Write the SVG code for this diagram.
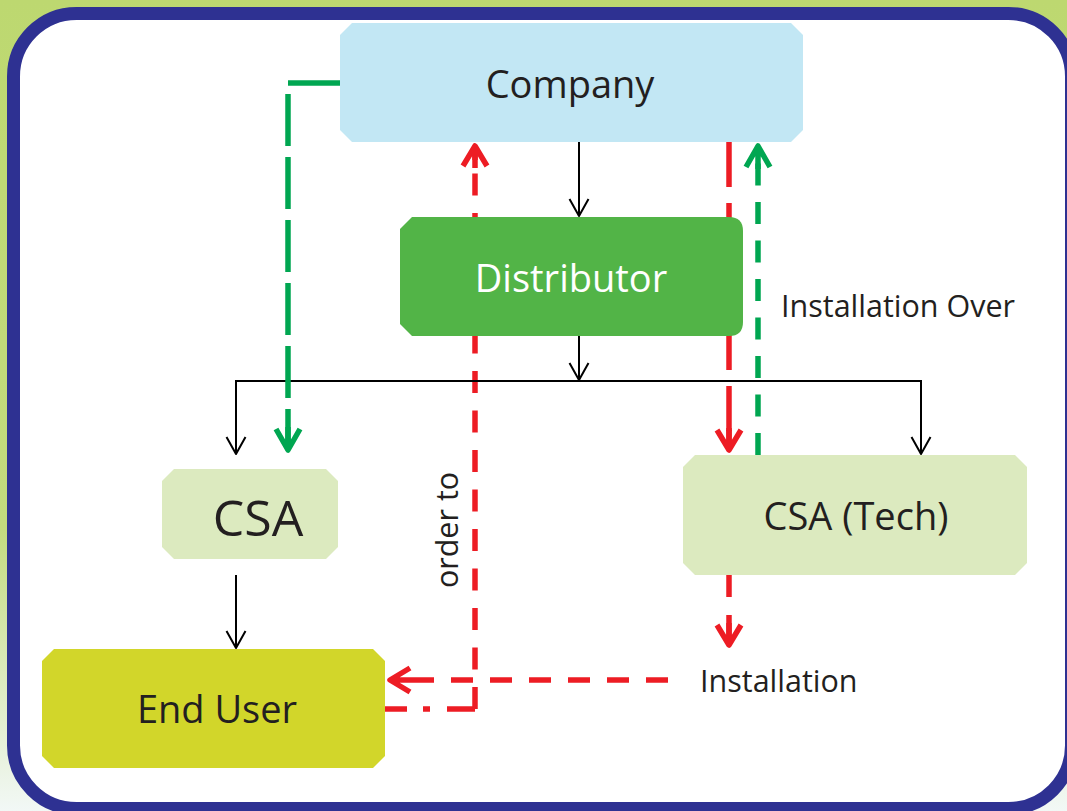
<svg xmlns="http://www.w3.org/2000/svg" width="1067" height="811" viewBox="0 0 1067 811">
<defs>
<linearGradient id="bg" x1="0" y1="0" x2="0" y2="1">
<stop offset="0" stop-color="#BDD870"/>
<stop offset="0.65" stop-color="#C3DB7E"/>
<stop offset="1" stop-color="#F2F8F6"/>
</linearGradient>
<marker id="ab" markerUnits="userSpaceOnUse" markerWidth="40" markerHeight="40" viewBox="-30 -20 40 40" refX="0" refY="0" orient="auto" overflow="visible">
<path d="M-17,-9.5 L0,0 L-17,9.5" fill="none" stroke="#000" stroke-width="2" stroke-linejoin="round"/>
</marker>
<marker id="ar" markerUnits="userSpaceOnUse" markerWidth="40" markerHeight="40" viewBox="-30 -20 40 40" refX="0" refY="0" orient="auto" overflow="visible">
<path d="M-20,-12 L0,0 L-20,12 M0,0 L-22,0" fill="none" stroke="#ED1C24" stroke-width="5.5" stroke-linejoin="round"/>
</marker>
<marker id="ag" markerUnits="userSpaceOnUse" markerWidth="40" markerHeight="40" viewBox="-30 -20 40 40" refX="0" refY="0" orient="auto" overflow="visible">
<path d="M-21,-12 L0,0 L-21,12 M0,0 L-23,0" fill="none" stroke="#00A651" stroke-width="5.5" stroke-linejoin="round"/>
</marker>
</defs>
<style>
.t{font-family:"Open Sans","Noto Sans","Liberation Sans",sans-serif;fill:#231F20;}
.lb{font-size:38px;text-anchor:middle;}
.sm{font-size:30.5px;}
.blk{fill:none;stroke:#000;stroke-width:2;}
.red{fill:none;stroke:#ED1C24;stroke-width:5.5;}
.grn{fill:none;stroke:#00A651;stroke-width:5.5;}
</style>
<rect x="0" y="0" width="1067" height="811" fill="url(#bg)"/>
<rect x="13.5" y="13.5" width="1058" height="795" rx="63" ry="63" fill="#FFFFFF" stroke="#2E3192" stroke-width="13"/>

<g id="connectors">
<path class="red" d="M475,709 V146" stroke-dasharray="22 17.5"/>
<path class="red" d="M385,709 H475" stroke-dasharray="22 16 7 17 30"/>
<path class="red" d="M729,142 V450" stroke-dasharray="45 16"/>
<path class="blk" d="M579,142 V216" marker-end="url(#ab)"/>
<path class="blk" d="M579,336 V380" marker-end="url(#ab)"/>
<path class="blk" d="M579,381 H236 V454" marker-end="url(#ab)"/>
<path class="blk" d="M579,381 H921 V454" marker-end="url(#ab)"/>
<path class="blk" d="M236,575 V648" marker-end="url(#ab)"/>
<path class="grn" d="M340,83 H288 V450" stroke-dasharray="52 11" marker-end="url(#ag)"/>
<path class="grn" d="M758,455 V146" stroke-dasharray="22 16.5" marker-end="url(#ag)"/>
<path class="red" d="M729,575 V645" stroke-dasharray="22 18" marker-end="url(#ar)"/>
<path class="red" d="M668,680 H390" stroke-dasharray="22 17" marker-end="url(#ar)"/>
<path class="red" d="M475,160 V146" marker-end="url(#ar)"/>
<path class="red" d="M729,430 V450" marker-end="url(#ar)"/>
</g>

<g id="company">
<path d="M352,23 H791 L803,35 V130 L791,142 H352 L340,130 V35 Z" fill="#C2E7F4"/>
<text class="t lb" x="570" y="98">Company</text>
</g>
<g id="distributor">
<path d="M412,217 H729 Q743,217 743,231 V322 Q743,336 729,336 H412 L400,324 V229 Z" fill="#52B447"/>
<text class="t lb" x="571" y="292" style="fill:#FFFFFF">Distributor</text>
</g>
<g id="csa">
<path d="M174,469 H326 L338,481 V547 L326,559 H174 L162,547 V481 Z" fill="#DCEABF"/>
<text class="t" x="258" y="536" style="font-size:50px;text-anchor:middle">CSA</text>
</g>
<g id="csa-tech">
<path d="M695,455 H1015 L1027,467 V563 L1015,575 H695 L683,563 V467 Z" fill="#DCEABF"/>
<text class="t lb" x="856" y="530">CSA (Tech)</text>
</g>
<g id="end-user">
<path d="M54,649 H373 L385,661 V756 L373,768 H54 L42,756 V661 Z" fill="#D2D62A"/>
<text class="t lb" x="217" y="723">End User</text>
</g>

<g id="labels">
<text class="t sm" x="781" y="317">Installation Over</text>
<text class="t sm" x="700" y="692">Installation</text>
<text class="t sm" transform="translate(458,530) rotate(-90)" text-anchor="middle">order to</text>
</g>
</svg>
